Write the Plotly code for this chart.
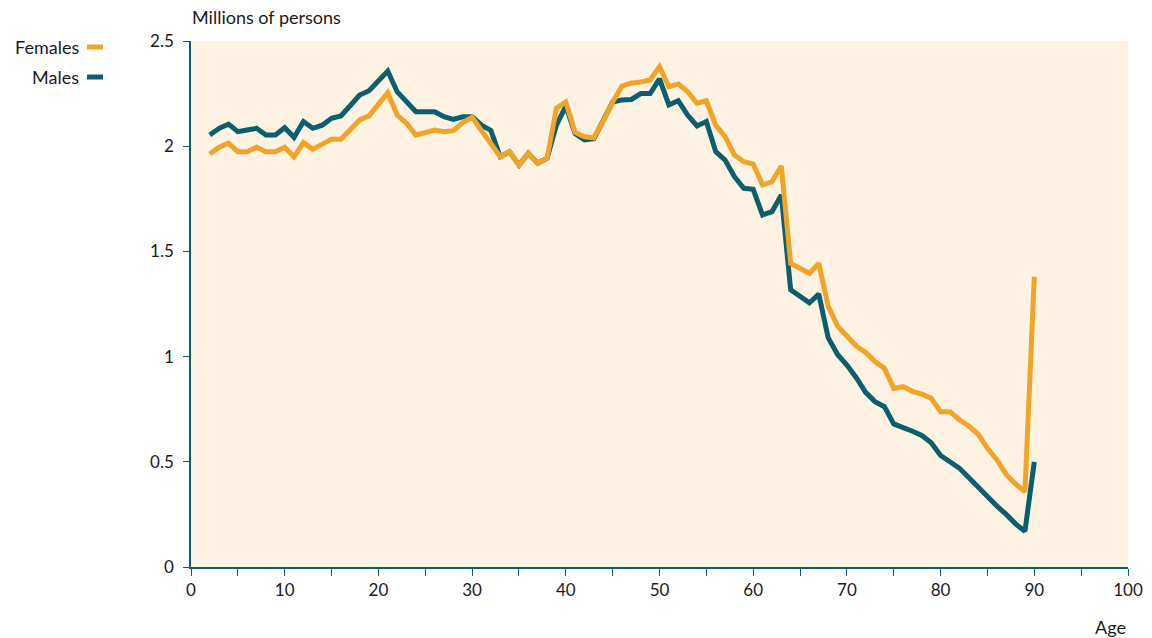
import plotly.graph_objects as go

# Population by single year of age (millions), ages 2..90 (90 = open-ended group)
ages = list(range(2, 91))

females = [
    1.963, 1.995, 2.014, 1.974, 1.974, 1.995, 1.974, 1.974, 1.995, 1.950,
    2.017, 1.985, 2.010, 2.033, 2.033, 2.077, 2.125, 2.144, 2.196, 2.254,
    2.148, 2.109, 2.053, 2.064, 2.077, 2.069, 2.074, 2.112, 2.137, 2.075,
    2.010, 1.950, 1.974, 1.910, 1.966, 1.919, 1.943, 2.180, 2.210, 2.065,
    2.045, 2.040, 2.120, 2.210, 2.286, 2.300, 2.305, 2.315, 2.378,
    2.283, 2.296, 2.259, 2.204, 2.216, 2.100, 2.045, 1.958, 1.926, 1.915,
    1.816, 1.831, 1.906,
    1.443, 1.417, 1.396, 1.443, 1.240, 1.145, 1.095, 1.050, 1.020, 0.976,
    0.945, 0.849, 0.857, 0.835, 0.822, 0.802, 0.738, 0.738, 0.700, 0.670,
    0.632, 0.564, 0.510, 0.440, 0.395, 0.358, 1.380,
]

males = [
    2.053, 2.085, 2.105, 2.069, 2.077, 2.085, 2.053, 2.053, 2.088, 2.042,
    2.117, 2.085, 2.100, 2.133, 2.144, 2.190, 2.243, 2.264, 2.315, 2.357,
    2.259, 2.210, 2.164, 2.164, 2.164, 2.140, 2.127, 2.140, 2.140, 2.100,
    2.075, 1.950, 1.974, 1.910, 1.966, 1.919, 1.943, 2.100, 2.190, 2.060,
    2.030, 2.036, 2.120, 2.210, 2.220, 2.222, 2.250, 2.250, 2.320,
    2.196, 2.216, 2.148, 2.096, 2.117, 1.974, 1.934, 1.855, 1.800, 1.795,
    1.673, 1.689, 1.768,
    1.317, 1.287, 1.256, 1.297, 1.090, 1.010, 0.960, 0.900, 0.830, 0.786,
    0.762, 0.680, 0.664, 0.645, 0.625, 0.590, 0.530, 0.500, 0.470, 0.425,
    0.380, 0.330, 0.290, 0.250, 0.205, 0.170, 0.500,
]

x_ticks = list(range(0, 101, 10))
y_ticks = [0, 0.5, 1, 1.5, 2, 2.5]
y_labels = ["0", "0.5", "1", "1.5", "2", "2.5"]

ORANGE = "#F0A428"
TEAL = "#0A5E6E"
BG = "#FEF2E2"
FONT = "Lato, Roboto, Noto Sans, sans-serif"
TXT = "#1a1a1a"

fig = go.Figure()
fig.add_trace(go.Scatter(x=ages, y=males, mode="lines", name="Males",
                         line=dict(color=TEAL, width=5), showlegend=False))
fig.add_trace(go.Scatter(x=ages, y=females, mode="lines", name="Females",
                         line=dict(color=ORANGE, width=5), showlegend=False))

L, R, T, B = 191, 24, 41, 71
W, H = 1152, 638
pw = W - L - R
ph = H - T - B


def px_x(p):
    return (p - L) / pw


def px_y(p):
    return 1 - (p - T) / ph


# legend drawn at the left: label followed by a short line sample
for label, color, yp in [("Females", ORANGE, 47), ("Males", TEAL, 77)]:
    fig.add_annotation(x=px_x(81), y=px_y(yp), xref="paper", yref="paper",
                       text=label, showarrow=False, xanchor="right",
                       yanchor="middle", font=dict(size=18, color=TXT, family=FONT))
    fig.add_shape(type="line", xref="paper", yref="paper",
                  x0=px_x(87), x1=px_x(103), y0=px_y(yp), y1=px_y(yp),
                  line=dict(color=color, width=5))

fig.add_annotation(x=px_x(190), y=px_y(17), xref="paper", yref="paper",
                   text="Millions of persons", showarrow=False, xanchor="left",
                   yanchor="middle", font=dict(size=18, color=TXT, family=FONT))
fig.add_annotation(x=px_x(1128), y=px_y(627), xref="paper", yref="paper",
                   text="Age", showarrow=False, xanchor="right",
                   yanchor="middle", font=dict(size=18, color=TXT, family=FONT))

fig.update_xaxes(range=[0, 100], tickvals=x_ticks, ticks="outside", ticklen=7,
                 tickcolor=TEAL, tickwidth=1.2, showline=True, linecolor=TEAL,
                 linewidth=1.5, showgrid=False, zeroline=False, automargin=False,
                 minor=dict(dtick=5, tick0=0, ticks="outside", ticklen=7,
                            tickcolor=TEAL, tickwidth=1.2, showgrid=False),
                 tickfont=dict(size=17, color=TXT, family=FONT))
fig.update_yaxes(range=[0, 2.5], tickvals=y_ticks, ticktext=y_labels,
                 ticks="outside", ticklen=6, tickcolor=TEAL, tickwidth=1.2,
                 showline=True, linecolor=TEAL, linewidth=1.5, showgrid=False,
                 zeroline=False, ticklabelstandoff=6, automargin=False,
                 tickfont=dict(size=17, color=TXT, family=FONT))

fig.update_layout(width=W, height=H, margin=dict(l=L, r=R, t=T, b=B, autoexpand=False),
                  plot_bgcolor=BG, paper_bgcolor="white")

fig.write_html("out.html")
